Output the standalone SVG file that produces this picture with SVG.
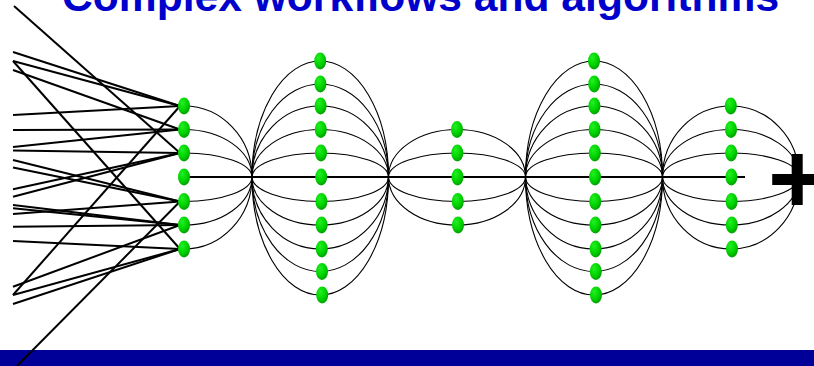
<svg xmlns="http://www.w3.org/2000/svg" width="814" height="366" viewBox="0 0 814 366">
<style>
.title{font-family:"Liberation Sans",Arial,sans-serif;font-weight:bold;font-size:42.6px;fill:#0000cc}
.plus{font-family:"Liberation Sans",Arial,sans-serif;font-weight:bold;font-size:100px;fill:#000}
.arc{fill:none;stroke:#000;stroke-width:1.1}
.ln{fill:none;stroke:#000;stroke-width:2}
.main{fill:none;stroke:#000;stroke-width:2}
.nd{fill:url(#g);stroke:none}
</style>
<defs>
<radialGradient id="g" cx="0.4" cy="0.35" r="0.7" fx="0.35" fy="0.3">
<stop offset="0" stop-color="#22f022"/>
<stop offset="0.6" stop-color="#00d200"/>
<stop offset="1" stop-color="#009800"/>
</radialGradient>
</defs>
<rect x="0" y="0" width="814" height="366" fill="#fff"/>
<text class="title" x="62" y="10.5">Complex workflows and algorithms</text>
<rect x="0" y="350" width="814" height="16" fill="#000099"/>
<g id="connectors">
<g id="arcs1">
<path class="arc" d="M184,106 A68,71 0 0 1 252,177"/>
<path class="arc" d="M184,129.5 A68,47.5 0 0 1 252,177"/>
<path class="arc" d="M184,153 A68,24 0 0 1 252,177"/>
<path class="arc" d="M184,201.5 A68,24.5 0 0 0 252,177"/>
<path class="arc" d="M184,225 A68,48 0 0 0 252,177"/>
<path class="arc" d="M184,249 A68,72 0 0 0 252,177"/>
</g>
<g id="arcs2">
<path class="arc" d="M252,177 A68.25,116 0 0 1 388.5,177"/>
<path class="arc" d="M252,177 A68.25,93 0 0 1 388.5,177"/>
<path class="arc" d="M252,177 A68.25,71 0 0 1 388.5,177"/>
<path class="arc" d="M252,177 A68.25,47.5 0 0 1 388.5,177"/>
<path class="arc" d="M252,177 A68.25,24 0 0 1 388.5,177"/>
<path class="arc" d="M252,177 A68.25,24.5 0 0 0 388.5,177"/>
<path class="arc" d="M252,177 A68.25,48 0 0 0 388.5,177"/>
<path class="arc" d="M252,177 A68.25,72 0 0 0 388.5,177"/>
<path class="arc" d="M252,177 A68.25,94.5 0 0 0 388.5,177"/>
<path class="arc" d="M252,177 A68.25,118 0 0 0 388.5,177"/>
</g>
<g id="arcs3">
<path class="arc" d="M388.5,177 A68.5,47.5 0 0 1 525.5,177"/>
<path class="arc" d="M388.5,177 A68.5,24 0 0 1 525.5,177"/>
<path class="arc" d="M388.5,177 A68.5,24.5 0 0 0 525.5,177"/>
<path class="arc" d="M388.5,177 A68.5,48 0 0 0 525.5,177"/>
</g>
<g id="arcs4">
<path class="arc" d="M525.5,177 A68.5,116 0 0 1 662.5,177"/>
<path class="arc" d="M525.5,177 A68.5,93 0 0 1 662.5,177"/>
<path class="arc" d="M525.5,177 A68.5,71 0 0 1 662.5,177"/>
<path class="arc" d="M525.5,177 A68.5,47.5 0 0 1 662.5,177"/>
<path class="arc" d="M525.5,177 A68.5,24 0 0 1 662.5,177"/>
<path class="arc" d="M525.5,177 A68.5,24.5 0 0 0 662.5,177"/>
<path class="arc" d="M525.5,177 A68.5,48 0 0 0 662.5,177"/>
<path class="arc" d="M525.5,177 A68.5,72 0 0 0 662.5,177"/>
<path class="arc" d="M525.5,177 A68.5,94.5 0 0 0 662.5,177"/>
<path class="arc" d="M525.5,177 A68.5,118 0 0 0 662.5,177"/>
</g>
<g id="arcs5">
<path class="arc" d="M662.5,177 A68.25,71 0 0 1 799,177"/>
<path class="arc" d="M662.5,177 A68.25,47.5 0 0 1 799,177"/>
<path class="arc" d="M662.5,177 A68.25,24 0 0 1 799,177"/>
<path class="arc" d="M662.5,177 A68.25,24.5 0 0 0 799,177"/>
<path class="arc" d="M662.5,177 A68.25,48 0 0 0 799,177"/>
<path class="arc" d="M662.5,177 A68.25,72 0 0 0 799,177"/>
</g>
<path class="main" d="M184,177 H745"/>
<g id="inputs">
<path class="ln" d="M14,6 L180,153"/>
<path class="ln" d="M13,52 L180,106"/>
<path class="ln" d="M13,61 L180,106"/>
<path class="ln" d="M13,61 L180,249"/>
<path class="ln" d="M13,70 L180,129.5"/>
<path class="ln" d="M13,115 L180,106"/>
<path class="ln" d="M13,130 L180,129.5"/>
<path class="ln" d="M13,147 L180,129.5"/>
<path class="ln" d="M13,150.5 L180,153"/>
<path class="ln" d="M13,160 L180,201.5"/>
<path class="ln" d="M13,167.5 L180,201.5"/>
<path class="ln" d="M13,189.3 L180,153"/>
<path class="ln" d="M13,196.7 L180,153"/>
<path class="ln" d="M13,205 L180,225"/>
<path class="ln" d="M13,208.3 L180,225"/>
<path class="ln" d="M13,214 L180,201.5"/>
<path class="ln" d="M13,226.7 L180,225"/>
<path class="ln" d="M13,241 L180,249"/>
<path class="ln" d="M13,286.7 L180,225"/>
<path class="ln" d="M13,295 L180,249"/>
<path class="ln" d="M13,295 L180,106"/>
<path class="ln" d="M13,304 L180,249"/>
<path class="ln" d="M17,366 L180,201.5"/>
</g>
</g>
<g id="col1">
<g id="c1n1"><ellipse class="nd" cx="184" cy="106" rx="6" ry="8.5"/></g>
<g id="c1n2"><ellipse class="nd" cx="184" cy="129.5" rx="6" ry="8.5"/></g>
<g id="c1n3"><ellipse class="nd" cx="184" cy="153" rx="6" ry="8.5"/></g>
<g id="c1n4"><ellipse class="nd" cx="184" cy="177" rx="6" ry="8.5"/></g>
<g id="c1n5"><ellipse class="nd" cx="184" cy="201.5" rx="6" ry="8.5"/></g>
<g id="c1n6"><ellipse class="nd" cx="184" cy="225" rx="6" ry="8.5"/></g>
<g id="c1n7"><ellipse class="nd" cx="184" cy="249" rx="6" ry="8.5"/></g>
</g>
<g id="col2">
<g id="c2n1"><ellipse class="nd" cx="320.2" cy="61" rx="6" ry="8.5"/></g>
<g id="c2n2"><ellipse class="nd" cx="320.4" cy="84" rx="6" ry="8.5"/></g>
<g id="c2n3"><ellipse class="nd" cx="320.6" cy="106" rx="6" ry="8.5"/></g>
<g id="c2n4"><ellipse class="nd" cx="320.8" cy="129.5" rx="6" ry="8.5"/></g>
<g id="c2n5"><ellipse class="nd" cx="321" cy="153" rx="6" ry="8.5"/></g>
<g id="c2n6"><ellipse class="nd" cx="321.2" cy="177" rx="6" ry="8.5"/></g>
<g id="c2n7"><ellipse class="nd" cx="321.4" cy="201.5" rx="6" ry="8.5"/></g>
<g id="c2n8"><ellipse class="nd" cx="321.6" cy="225" rx="6" ry="8.5"/></g>
<g id="c2n9"><ellipse class="nd" cx="321.8" cy="249" rx="6" ry="8.5"/></g>
<g id="c2n10"><ellipse class="nd" cx="322" cy="271.5" rx="6" ry="8.5"/></g>
<g id="c2n11"><ellipse class="nd" cx="322.2" cy="295" rx="6" ry="8.5"/></g>
</g>
<g id="col3">
<g id="c3n1"><ellipse class="nd" cx="457" cy="129.5" rx="6" ry="8.5"/></g>
<g id="c3n2"><ellipse class="nd" cx="457.3" cy="153" rx="6" ry="8.5"/></g>
<g id="c3n3"><ellipse class="nd" cx="457.5" cy="177" rx="6" ry="8.5"/></g>
<g id="c3n4"><ellipse class="nd" cx="457.8" cy="201.5" rx="6" ry="8.5"/></g>
<g id="c3n5"><ellipse class="nd" cx="458" cy="225" rx="6" ry="8.5"/></g>
</g>
<g id="col4">
<g id="c4n1"><ellipse class="nd" cx="594" cy="61" rx="6" ry="8.5"/></g>
<g id="c4n2"><ellipse class="nd" cx="594.2" cy="84" rx="6" ry="8.5"/></g>
<g id="c4n3"><ellipse class="nd" cx="594.4" cy="106" rx="6" ry="8.5"/></g>
<g id="c4n4"><ellipse class="nd" cx="594.6" cy="129.5" rx="6" ry="8.5"/></g>
<g id="c4n5"><ellipse class="nd" cx="594.8" cy="153" rx="6" ry="8.5"/></g>
<g id="c4n6"><ellipse class="nd" cx="595" cy="177" rx="6" ry="8.5"/></g>
<g id="c4n7"><ellipse class="nd" cx="595.2" cy="201.5" rx="6" ry="8.5"/></g>
<g id="c4n8"><ellipse class="nd" cx="595.4" cy="225" rx="6" ry="8.5"/></g>
<g id="c4n9"><ellipse class="nd" cx="595.6" cy="249" rx="6" ry="8.5"/></g>
<g id="c4n10"><ellipse class="nd" cx="595.8" cy="271.5" rx="6" ry="8.5"/></g>
<g id="c4n11"><ellipse class="nd" cx="596" cy="295" rx="6" ry="8.5"/></g>
</g>
<g id="col5">
<g id="c5n1"><ellipse class="nd" cx="730.8" cy="106" rx="6" ry="8.5"/></g>
<g id="c5n2"><ellipse class="nd" cx="731" cy="129.5" rx="6" ry="8.5"/></g>
<g id="c5n3"><ellipse class="nd" cx="731.2" cy="153" rx="6" ry="8.5"/></g>
<g id="c5n4"><ellipse class="nd" cx="731.4" cy="177" rx="6" ry="8.5"/></g>
<g id="c5n5"><ellipse class="nd" cx="731.6" cy="201.5" rx="6" ry="8.5"/></g>
<g id="c5n6"><ellipse class="nd" cx="731.8" cy="225" rx="6" ry="8.5"/></g>
<g id="c5n7"><ellipse class="nd" cx="732" cy="249" rx="6" ry="8.5"/></g>
</g>
<text class="plus" x="768" y="213">+</text>
</svg>
